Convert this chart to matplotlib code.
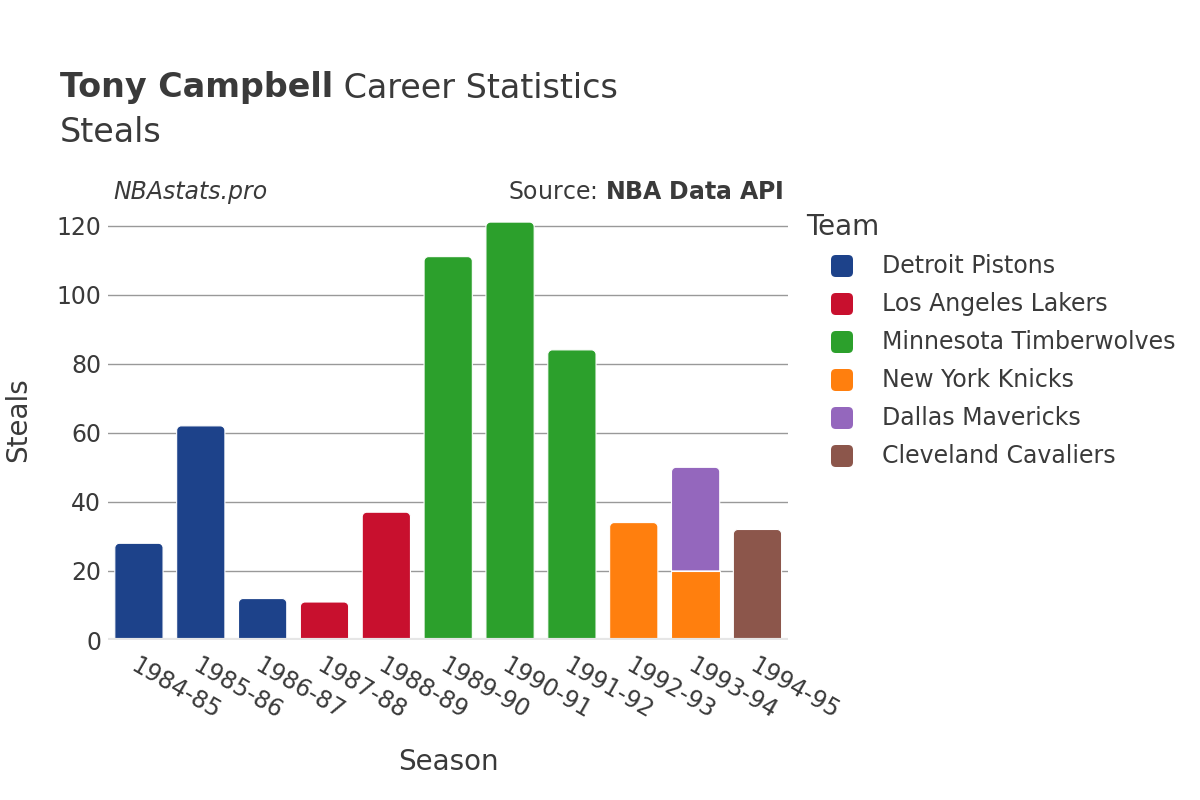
import matplotlib.pyplot as plt
import numpy as np
from matplotlib.patches import PathPatch, FancyBboxPatch
from matplotlib.path import Path

seasons = ["1984-85", "1985-86", "1986-87", "1987-88", "1988-89", "1989-90",
           "1990-91", "1991-92", "1992-93", "1993-94", "1994-95"]
teams = ["Detroit Pistons", "Los Angeles Lakers", "Minnesota Timberwolves",
         "New York Knicks", "Dallas Mavericks", "Cleveland Cavaliers"]
colors = ["#1d428a", "#c8102e", "#2ca02c", "#ff7f0e", "#9467bd", "#8c564b"]
# steals per team per season (0 = did not play for that team)
steals = {
    "Detroit Pistons":        [28, 62, 12, 0, 0, 0, 0, 0, 0, 0, 0],
    "Los Angeles Lakers":     [0, 0, 0, 11, 37, 0, 0, 0, 0, 0, 0],
    "Minnesota Timberwolves": [0, 0, 0, 0, 0, 111, 121, 84, 0, 0, 0],
    "New York Knicks":        [0, 0, 0, 0, 0, 0, 0, 0, 34, 20, 0],
    "Dallas Mavericks":       [0, 0, 0, 0, 0, 0, 0, 0, 0, 30, 0],
    "Cleveland Cavaliers":    [0, 0, 0, 0, 0, 0, 0, 0, 0, 0, 32],
}

TXT = "#3a3a3a"
fig = plt.figure(figsize=(12, 8), dpi=100)
ax = fig.add_axes([0.09, 0.2, 0.567, 0.55])

x = np.arange(len(seasons))
ymax = 127.4
ax.set_xlim(-0.5, len(seasons) - 0.5)
ax.set_ylim(0, ymax)

# pixel -> data scale for rounded corners
px_x = (len(seasons)) / (0.567 * 1200)
px_y = ymax / (0.55 * 800)
r = 4.5
rx, ry = r * px_x, r * px_y
width = 0.78


def top_rounded(x0, y0, w, h, color):
    x1, y1 = x0 + w, y0 + h
    k = 0.55
    verts = [(x0, y0), (x1, y0), (x1, y1 - ry),
             (x1, y1 - ry + k * ry), (x1 - rx + k * rx, y1), (x1 - rx, y1),
             (x0 + rx, y1),
             (x0 + rx - k * rx, y1), (x0, y1 - ry + k * ry), (x0, y1 - ry),
             (x0, y0)]
    codes = [Path.MOVETO, Path.LINETO, Path.LINETO,
             Path.CURVE4, Path.CURVE4, Path.CURVE4, Path.LINETO,
             Path.CURVE4, Path.CURVE4, Path.CURVE4, Path.CLOSEPOLY]
    ax.add_patch(PathPatch(Path(verts, codes), facecolor=color,
                           edgecolor="white", linewidth=0.8, zorder=3))


totals = np.zeros(len(seasons))
for team, col in zip(teams, colors):
    vals = np.array(steals[team], dtype=float)
    for i, v in enumerate(vals):
        if v <= 0:
            continue
        is_top = all(steals[t][i] == 0 for t in teams[teams.index(team) + 1:])
        if is_top:
            top_rounded(x[i] - width / 2, totals[i], width, v, col)
        else:
            ax.bar(x[i], v, width, bottom=totals[i], color=col,
                   edgecolor="white", linewidth=0.8, zorder=3)
    totals += vals

ax.set_yticks(np.arange(0, 121, 20))
ax.grid(axis="y", color="#999999", linewidth=1, zorder=0)
ax.axhline(0, color="#e6e6e6", linewidth=3, zorder=4)
for s in ax.spines.values():
    s.set_visible(False)
ax.tick_params(axis="both", length=0, labelsize=17, colors=TXT, pad=5)
ax.set_xticks(x)
ax.set_xticklabels(seasons, rotation=-30, ha="left", va="top",
                   rotation_mode="anchor")
ax.tick_params(axis="x", pad=10)

ax.set_xlabel("Season", fontsize=20, color=TXT, labelpad=17)
ax.set_ylabel("Steals", fontsize=20, color=TXT, labelpad=17)

t1 = fig.text(60 / 1200, 1 - 88 / 800, "Tony Campbell", fontsize=24,
              fontweight="bold", color=TXT, va="center", ha="left")
fig.canvas.draw()
bb = t1.get_window_extent()
fig.text(bb.x1 / 1200, 1 - 88 / 800, " Career Statistics", fontsize=24,
         color=TXT, va="center", ha="left")
fig.text(60 / 1200, 1 - 132 / 800, "Steals", fontsize=24, color=TXT,
         va="center", ha="left")

fig.text(113 / 1200, 1 - 192 / 800, "NBAstats.pro", fontsize=17,
         style="italic", color=TXT, va="center", ha="left")
fig.text(784 / 1200, 1 - 192 / 800, r"Source: $\bf{NBA\ Data\ API}$",
         fontsize=17, color=TXT, va="center", ha="right")

# legend
fig.text(806 / 1200, 1 - 227 / 800, "Team", fontsize=20, color=TXT,
         va="center", ha="left")
for j, (team, col) in enumerate(zip(teams, colors)):
    yc = 266 + j * 38
    fig.patches.append(FancyBboxPatch(
        ((831) / 1200, 1 - (yc + 11) / 800), 22 / 1200, 22 / 800,
        boxstyle="round,pad=0,rounding_size=0.004", transform=fig.transFigure,
        facecolor=col, edgecolor="none", mutation_aspect=1.5, figure=fig))
    fig.text(882 / 1200, 1 - yc / 800, team, fontsize=17, color=TXT,
             va="center", ha="left")

fig.savefig("out.png", dpi=100)
